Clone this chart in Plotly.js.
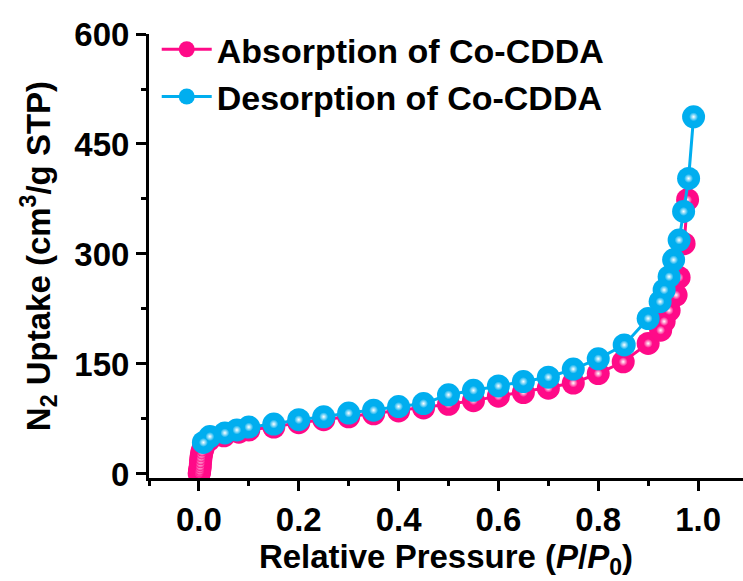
<!DOCTYPE html>
<html>
<head>
<meta charset="utf-8">
<script src="https://cdn.plot.ly/plotly-3.0.1.min.js"></script>
<style>html,body{margin:0;padding:0;background:#fff;}#chart{width:743px;height:581px;}</style>
</head>
<body>
<div id="chart"></div>
<script>
// Absorption (adsorption) branch
const absP = [0.0005, 0.001, 0.0015, 0.002, 0.0025, 0.003, 0.0035, 0.004, 0.005, 0.006, 0.008, 0.01, 0.02, 0.05, 0.08, 0.10, 0.15, 0.20, 0.25, 0.30, 0.35, 0.40, 0.45, 0.50, 0.55, 0.60, 0.65, 0.70, 0.75, 0.80, 0.85, 0.90, 0.925, 0.932, 0.942, 0.956, 0.962, 0.972, 0.979];
const absV = [0.5, 2, 4, 7, 10, 14, 18, 22, 26, 30, 34, 39, 46, 52, 57, 60, 64, 70, 74, 78, 82, 86, 90, 95, 100, 106, 111, 117, 124, 137, 153, 178, 196, 208, 223, 244, 268, 314, 374];
// Desorption branch
const desP = [0.991, 0.981, 0.971, 0.962, 0.951, 0.942, 0.932, 0.924, 0.900, 0.852, 0.80, 0.75, 0.70, 0.65, 0.60, 0.55, 0.50, 0.45, 0.40, 0.35, 0.30, 0.25, 0.20, 0.15, 0.10, 0.076, 0.052, 0.022, 0.009];
const desV = [487, 403, 358, 319, 292, 269, 251, 235, 212, 176, 157, 143, 132, 126, 120, 114, 108, 96, 92, 87, 83, 78, 74, 68, 64, 60, 56, 51, 43];
const seriesNames = ['Absorption of Co-CDDA', 'Desorption of Co-CDDA'];
const xTicks = [0.0, 0.2, 0.4, 0.6, 0.8, 1.0];
const xTickText = ['0.0', '0.2', '0.4', '0.6', '0.8', '1.0'];
const yTicks = [0, 150, 300, 450, 600];

const PINK = '#FF0A88';
const CYAN = '#00AEEF';
const FONT = '"Liberation Sans", Arial, sans-serif';

function mainTrace(x, y, name, color) {
  return {
    x: x, y: y, name: name, type: 'scatter', mode: 'lines+markers',
    line: {color: color, width: 3},
    marker: {color: color, size: 23, line: {width: 0}},
    cliponaxis: true
  };
}
function glowTrace(x, y, color) {
  return {
    x: x, y: y, type: 'scatter', mode: 'markers', showlegend: false, hoverinfo: 'skip',
    marker: {color: color, size: 9, line: {width: 0}, gradient: {type: 'radial', color: '#ffffff'}},
    cliponaxis: true
  };
}

const data = [
  mainTrace(absP, absV, seriesNames[0], PINK),
  glowTrace(absP, absV, PINK),
  mainTrace(desP, desV, seriesNames[1], CYAN),
  glowTrace(desP, desV, CYAN)
];

const axisCommon = {
  showline: true, linecolor: '#000', linewidth: 3,
  ticks: 'outside', ticklen: 10, tickwidth: 3, tickcolor: '#000',
  showgrid: false, zeroline: false,
  tickfont: {family: FONT, size: 33, color: '#000', weight: 'bold'}
};

const layout = {
  width: 743, height: 581,
  margin: {l: 149, r: 0, t: 34, b: 103},
  paper_bgcolor: '#fff', plot_bgcolor: '#fff',
  font: {family: FONT, color: '#000', weight: 'bold'},
  showlegend: true,
  legend: {
    x: 0.013, y: 1.03, xanchor: 'left', yanchor: 'top',
    bgcolor: 'rgba(0,0,0,0)', borderwidth: 0,
    itemwidth: 50,
    font: {family: FONT, size: 34, color: '#000', weight: 'bold'},
    traceorder: 'normal'
  },
  xaxis: Object.assign({}, axisCommon, {
    range: [-0.1, 1.09],
    tickvals: xTicks, ticktext: xTickText,
    minor: {tickvals: [-0.1, 0.1, 0.3, 0.5, 0.7, 0.9], ticks: 'outside', ticklen: 5, tickwidth: 3, tickcolor: '#000'},
    title: {text: 'Relative Pressure (<i>P</i>/<i>P</i><sub>0</sub>)', standoff: 6,
            font: {family: FONT, size: 33, color: '#000', weight: 'bold'}}
  }),
  yaxis: Object.assign({}, axisCommon, {
    range: [-5.5, 600],
    tickvals: yTicks,
    minor: {tickvals: [75, 225, 375, 525], ticks: 'outside', ticklen: 5, tickwidth: 3, tickcolor: '#000'},
    title: {text: 'N<sub>2</sub> Uptake (cm<sup>3</sup>/g STP)', standoff: 14,
            font: {family: FONT, size: 33, color: '#000', weight: 'bold'}}
  })
};

Plotly.newPlot('chart', data, layout, {staticPlot: true, displayModeBar: false});
</script>
</body>
</html>
